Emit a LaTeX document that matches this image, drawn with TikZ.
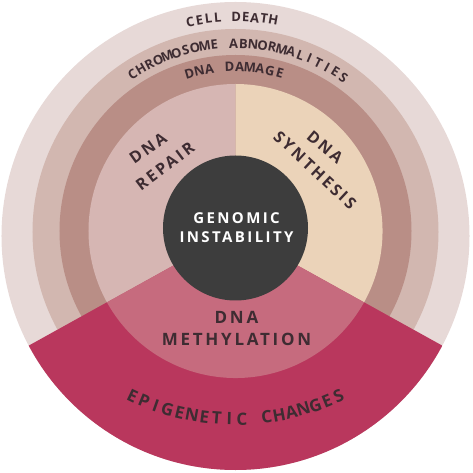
\documentclass[tikz,border=0pt]{standalone}
\usepackage{fontspec}
\usetikzlibrary{calc}
\setmainfont{Open Sans}
\newfontfamily\lblfont{Open Sans}[LetterSpace=16]
\newfontfamily\arcfont{Open Sans}

\definecolor{ringout}{HTML}{E7D9D7}
\definecolor{ringmid}{HTML}{D2B7B0}
\definecolor{ringin}{HTML}{B98E86}
\definecolor{repair}{HTML}{D6B6B3}
\definecolor{synth}{HTML}{EBD3B9}
\definecolor{methyl}{HTML}{C66B7E}
\definecolor{epired}{HTML}{B9375D}
\definecolor{core}{HTML}{3D3D3D}
\definecolor{inkdark}{HTML}{3E2C32}

\tikzset{
  arcletter/.style={font=\arcfont\bfseries\fontsize{13}{13}\selectfont, text=inkdark, inner sep=0pt},
  bigletter/.style={font=\arcfont\bfseries\fontsize{17}{17}\selectfont, text=inkdark, inner sep=0pt},
  lbl/.style={font=\lblfont\bfseries\fontsize{16}{22}\selectfont, text=inkdark, inner sep=0pt, align=center}
}

\begin{document}
\begin{tikzpicture}[x=1pt, y=1pt]
  \useasboundingbox (-235.5,-237) rectangle (236.5,236);

  % Rings
  \fill[ringout] (0,0) circle (234);
  \fill[ringmid] (0,4) circle (203);
  \fill[ringin] (0,5) circle (176);

  % Epigenetic wedge
  \begin{scope}
    \clip (0,0) circle (234);
    \fill[epired] (0,5) -- +(209:300) arc[start angle=209, end angle=331, radius=300] -- cycle;
  \end{scope}

  % Inner sectors
  \def\cy{5}
  \def\ri{147}
  \fill[repair] (0,\cy) -- +(90:\ri) arc[start angle=90, end angle=209, radius=\ri] -- cycle;
  \fill[synth] (0,\cy) -- +(-29:\ri) arc[start angle=-29, end angle=90, radius=\ri] -- cycle;
  \fill[methyl] (0,\cy) -- +(209:\ri) arc[start angle=209, end angle=331, radius=\ri] -- cycle;

  % Core
  \fill[core] (0,8) circle (72.5);
  \node[lbl, text=white, font=\lblfont\bfseries\fontsize{15}{19}\selectfont] (genomic) at (1,8) {GENOMIC\\INSTABILITY};

  % Sector labels
  \node[lbl, rotate=35] (repairdna) at (-87.5,88) {DNA};
  \node[lbl, rotate=37] (repair) at (-70.5,70) {REPAIR};
  \node[lbl, rotate=-40] (synthdna) at (89.5,89) {DNA};
  \node[lbl, rotate=-43] (synthesis) at (79.5,66) {SYNTHESIS};
  \node[lbl, font=\lblfont\bfseries\fontsize{17}{22}\selectfont] (methylation) at (1,-92) {DNA\\METHYLATION};

  % Text on the rings
  \foreach \ch [count=\i] in {C,E,L,L,,D,E,A,T,H} {
    \pgfmathsetmacro\a{91+4.5*2.43-(\i-1)*2.43}
    \node[arcletter, rotate=\a-90] (death\i) at (\a:219) {\ch};
  }
  \foreach \ch [count=\i] in {C,H,R,O,M,O,S,O,M,E,,A,B,N,O,R,M,A,L,I,T,I,E,S} {
    \pgfmathsetmacro\a{89.1+11.5*2.957-(\i-1)*2.957}
    \node[arcletter, rotate=\a-90] (chrom\i) at ($(0,4)+(\a:188.6)$) {\ch};
  }
  \foreach \ch [count=\i] in {D,N,A,,D,A,M,A,G,E} {
    \pgfmathsetmacro\a{90.3+4.5*3.55-(\i-1)*3.55}
    \node[arcletter, rotate=\a-90] (damage\i) at ($(0,5)+(\a:164)$) {\ch};
  }
  \foreach \ch [count=\i] in {E,P,I,G,E,N,E,T,I,C,,C,H,A,N,G,E,S} {
    \pgfmathsetmacro\a{270-8.5*3.0+(\i-1)*3.0}
    \node[bigletter, rotate=\a+90] (epi\i) at ($(0,56)+(\a:239)$) {\ch};
  }
\end{tikzpicture}
\end{document}
